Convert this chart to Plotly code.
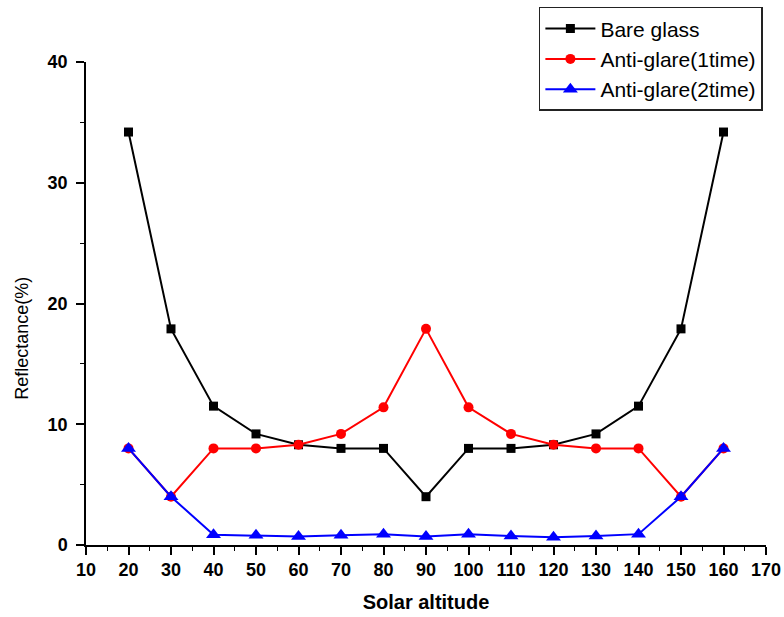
import plotly.graph_objects as go

altitude = [20, 30, 40, 50, 60, 70, 80, 90, 100, 110, 120, 130, 140, 150, 160]
bare_glass = [34.2, 17.9, 11.5, 9.2, 8.3, 8.0, 8.0, 4.0, 8.0, 8.0, 8.3, 9.2, 11.5, 17.9, 34.2]
anti_1time = [8.0, 4.0, 8.0, 8.0, 8.3, 9.2, 11.4, 17.9, 11.4, 9.2, 8.3, 8.0, 8.0, 4.0, 8.0]
anti_2time = [8.0, 4.0, 0.85, 0.8, 0.7, 0.8, 0.9, 0.7, 0.9, 0.75, 0.65, 0.75, 0.9, 4.0, 8.0]
x_ticks = list(range(10, 171, 10))
y_ticks = [0, 10, 20, 30, 40]

fig = go.Figure()
fig.add_trace(go.Scatter(x=altitude, y=bare_glass, mode="lines+markers", name="Bare glass",
                         line=dict(color="black", width=2),
                         marker=dict(symbol="square", size=9, color="black")))
fig.add_trace(go.Scatter(x=altitude, y=anti_1time, mode="lines+markers", name="Anti-glare(1time)",
                         line=dict(color="#ff0000", width=2),
                         marker=dict(symbol="circle", size=10, color="#ff0000")))
fig.add_trace(go.Scatter(x=altitude, y=anti_2time, mode="lines+markers", name="Anti-glare(2time)",
                         line=dict(color="#0000ff", width=2),
                         marker=dict(symbol="triangle-up", size=13, color="#0000ff")))

tickfont = dict(family="Arial, Liberation Sans", size=18, color="black")
fig.update_layout(
    width=784, height=617,
    margin=dict(l=86, r=18, t=62, b=72, autoexpand=False),
    paper_bgcolor="white", plot_bgcolor="white",
    showlegend=True,
    legend=dict(x=0.666, y=1.114, xanchor="left", yanchor="top",
                bordercolor="#222222", borderwidth=1.5, bgcolor="white",
                font=dict(family="Arial, Liberation Sans", size=21, color="black"),
                tracegroupgap=0, itemwidth=50),
    xaxis=dict(range=[10, 170], tickvals=x_ticks, ticktext=[f"<b>{v}</b>" for v in x_ticks],
               showgrid=False, zeroline=False, showline=True, linecolor="black", linewidth=1.5,
               ticks="outside", ticklen=8, tickwidth=1.5, tickcolor="black",
               minor=dict(dtick=5, ticks="outside", ticklen=4, tickwidth=1.2, tickcolor="black"),
               tickfont=tickfont,
               title=dict(text="<b>Solar altitude</b>", font=dict(family="Arial, Liberation Sans", size=20, color="black"), standoff=16)),
    yaxis=dict(range=[0, 40], tickvals=y_ticks, ticktext=[f"<b>{v}</b>" for v in y_ticks],
               showgrid=False, zeroline=False, showline=True, linecolor="black", linewidth=1.5,
               ticks="outside", ticklen=8, tickwidth=1.5, tickcolor="black",
               minor=dict(dtick=5, ticks="outside", ticklen=4, tickwidth=1.2, tickcolor="black"),
               tickfont=tickfont, ticklabelstandoff=5),
    annotations=[dict(text="Reflectance(%)", textangle=-90, xref="paper", yref="paper",
                      x=-0.094, y=0.427, xanchor="center", yanchor="middle", showarrow=False,
                      font=dict(family="Arial, Liberation Sans", size=18, color="black"))],
)

fig.write_html("out.html")
